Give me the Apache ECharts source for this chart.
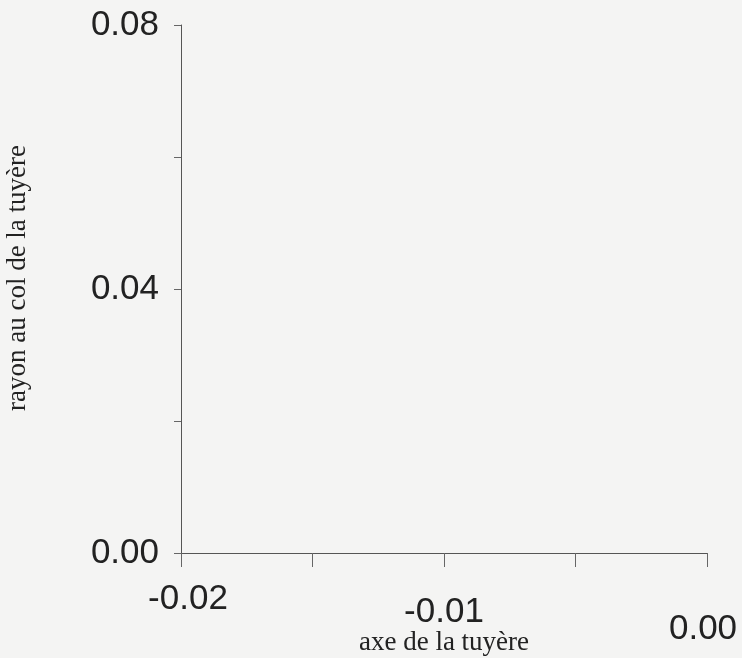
<!DOCTYPE html>
<html>
<head>
<meta charset="utf-8">
<script src="https://cdn.jsdelivr.net/npm/echarts@6/dist/echarts.min.js"></script>
<style>html,body{margin:0;padding:0;background:#f4f4f3;}#c{width:742px;height:658px;}</style>
</head>
<body>
<div id="c"></div>
<script>
// Axis ranges and tick labels (chart contains no plotted data)
var xMin = -0.02, xMax = 0.00, xStep = 0.005;
var yMin = 0.00, yMax = 0.08, yStep = 0.02;
var xLabelValues = [-0.02, -0.01, 0.00];
var yLabelValues = [0.00, 0.04, 0.08];
var seriesData = [];
var xTitle = 'axe de la tuyère';
var yTitle = 'rayon au col de la tuyère';

function near(v, arr) { return arr.some(function (a) { return Math.abs(a - v) < 1e-9; }); }

var chart = echarts.init(document.getElementById('c'));
chart.setOption({
  backgroundColor: '#f4f4f3',
  animation: false,
  grid: { left: 181, right: 35, top: 25, bottom: 105, outerBoundsMode: 'none', containLabel: false },
  xAxis: {
    type: 'value', min: xMin, max: xMax, interval: xStep,
    name: xTitle, nameLocation: 'middle', nameGap: 76, nameMoveOverlap: false,
    nameTextStyle: { fontFamily: 'Liberation Serif', fontSize: 27, color: '#222' },
    axisLine: { show: true, onZero: false, lineStyle: { color: '#555', width: 1 } },
    axisTick: { show: true, length: 14, lineStyle: { color: '#666' } },
    splitLine: { show: false },
    axisLabel: {
      margin: 29,
      showMinLabel: true, showMaxLabel: true,
      formatter: function (v) {
        if (!near(v, xLabelValues)) return '';
        var s = v.toFixed(2);
        if (Math.abs(v + 0.02) < 1e-9) return '{a|' + s + '}';
        if (Math.abs(v + 0.01) < 1e-9) return '{b|' + s + '}';
        return '{c|' + s + '}';
      },
      rich: {
        a: { fontFamily: 'Liberation Sans', fontSize: 35, color: '#222', padding: [0, 0, 0, 14] },
        b: { fontFamily: 'Liberation Sans', fontSize: 35, color: '#222', padding: [13, 0, 0, 0] },
        c: { fontFamily: 'Liberation Sans', fontSize: 35, color: '#222', padding: [30, 8, 0, 0] }
      }
    }
  },
  yAxis: {
    type: 'value', min: yMin, max: yMax, interval: yStep,
    name: yTitle, nameLocation: 'middle', nameGap: 150, nameMoveOverlap: false,
    nameTextStyle: { fontFamily: 'Liberation Serif', fontSize: 27, color: '#222', padding: [0, 0, 0, 22] },
    axisLine: { show: true, onZero: false, lineStyle: { color: '#555', width: 1 } },
    axisTick: { show: true, length: 7, lineStyle: { color: '#666' } },
    splitLine: { show: false },
    axisLabel: {
      margin: 22,
      showMinLabel: true, showMaxLabel: true,
      fontFamily: 'Liberation Sans', fontSize: 35, color: '#222',
      formatter: function (v) { return near(v, yLabelValues) ? v.toFixed(2) : ''; }
    }
  },
  series: [{ type: 'line', data: seriesData, showSymbol: false }]
});
</script>
</body>
</html>
